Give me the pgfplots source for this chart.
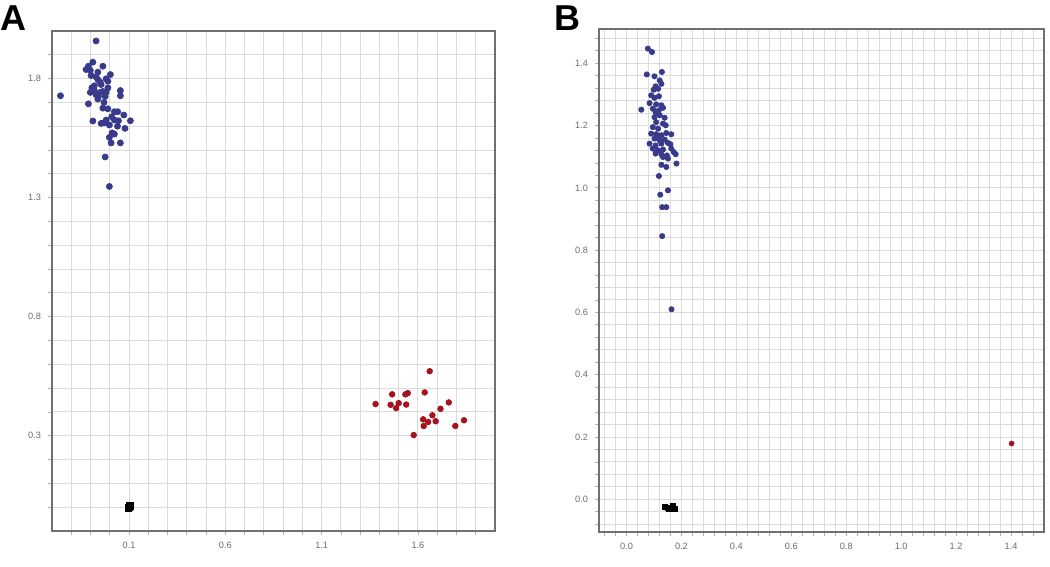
\documentclass[border=0pt]{standalone}
\usepackage{fontspec}
\setmainfont{Liberation Sans}
\usepackage{pgfplots}
\pgfplotsset{compat=1.18}

\definecolor{ptblue}{HTML}{3A3A8C}
\definecolor{ptred}{HTML}{A5141E}
\definecolor{gridc}{HTML}{DCDCDC}
\definecolor{framec}{HTML}{707070}

\pgfplotsset{
  panel/.style={
    scale only axis, anchor=south west,
    axis line style={draw=framec, line width=1pt},
    grid=both,
    major grid style={draw=gridc, line width=0.5pt},
    minor grid style={draw=gridc, line width=0.5pt},
    tick align=outside, tick pos=left,
    major tick length=2pt, minor tick length=2pt,
    every tick/.style={draw=gray!60, line width=0.4pt},
    tick label style={font=\fontsize{4.6}{5}\selectfont, text=gray!85!black},
    /pgf/number format/assume math mode=true,
    /pgf/number format/.cd, fixed, fixed zerofill, precision=1, /pgfplots/.cd,
    clip=false,
  },
  blue pts/.style={only marks, mark=*, mark size=1.5pt, color=ptblue},
  red pts/.style={only marks, mark=*, mark size=1.4pt, color=ptred},
  black pts/.style={only marks, mark=square*, mark size=1.6pt, color=black},
}

\begin{document}
\begin{tikzpicture}
\useasboundingbox (0pt,0pt) rectangle (525pt,283.5pt);

\node[anchor=north west, inner sep=0pt, font=\fontsize{18}{18}\selectfont\bfseries] at (0pt,281pt) {A};
\node[anchor=north west, inner sep=0pt, font=\fontsize{18}{18}\selectfont\bfseries] at (277pt,281pt) {B};

% panel A
\begin{axis}[panel,
    at={(26pt,18pt)}, width=221.5pt, height=250pt,
    xmin=-0.3, xmax=2.0, ymin=-0.1, ymax=2.0,
    xtick={0.1,0.6,1.1,1.6},
    ytick={0.3,0.8,1.3,1.8},
    minor xtick={-0.2,-0.1,0,0.2,0.3,0.4,0.5,0.7,0.8,0.9,1.0,1.2,1.3,1.4,1.5,1.7,1.8,1.9},
    minor ytick={0,0.1,0.2,0.4,0.5,0.6,0.7,0.9,1.0,1.1,1.2,1.4,1.5,1.6,1.7,1.9},
  ]
  \addplot[blue pts] coordinates {
    (-0.071,1.958) (-0.088,1.869) (-0.036,1.852) (-0.111,1.852) (-0.123,1.838)
    (-0.101,1.835) (-0.062,1.827) (-0.097,1.813) (-0.071,1.807) (-0.062,1.796)
    (0.003,1.817) (-0.019,1.799) (-0.010,1.789) (-0.045,1.775) (-0.256,1.728)
    (-0.093,1.761) (-0.101,1.742) (-0.080,1.750) (-0.071,1.732) (-0.059,1.725)
    (-0.049,1.742) (-0.062,1.714) (-0.036,1.746) (-0.019,1.742) (-0.024,1.725)
    (-0.010,1.761) (0.055,1.750) (0.055,1.728) (-0.111,1.694) (-0.036,1.676)
    (-0.010,1.673) (0.024,1.661) (0.041,1.661) (0.073,1.647) (-0.088,1.622)
    (-0.045,1.612) (-0.028,1.615) (-0.002,1.605) (-0.019,1.626) (0.024,1.626)
    (0.045,1.623) (0.107,1.623) (0.079,1.591) (0.012,1.572) (0.024,1.567)
    (-0.002,1.553) (0.007,1.530) (0.055,1.530) (-0.024,1.471) (-0.002,1.347)
    (-0.080,1.770) (-0.050,1.785) (-0.030,1.700) (0.010,1.640) (0.040,1.600)
  };
  \addplot[red pts] coordinates {
    (1.661,0.571) (1.466,0.474) (1.535,0.474) (1.547,0.479) (1.635,0.482)
    (1.380,0.433) (1.458,0.430) (1.500,0.437) (1.487,0.416) (1.539,0.431)
    (1.760,0.440) (1.717,0.413) (1.675,0.386) (1.627,0.369) (1.653,0.358)
    (1.692,0.361) (1.630,0.341) (1.794,0.341) (1.839,0.365) (1.578,0.303)
  };
  \addplot[black pts] coordinates {
    (0.100,0.000) (0.104,0.006) (0.097,-0.004) (0.102,0.001)
  };
\end{axis}

% panel B
\begin{axis}[panel,
    at={(299.5pt,17.5pt)}, width=222.5pt, height=251.5pt,
    xmin=-0.1, xmax=1.52, ymin=-0.105, ymax=1.51,
    xtick={0,0.2,0.4,0.6,0.8,1.0,1.2,1.4},
    ytick={0,0.2,0.4,0.6,0.8,1.0,1.2,1.4},
    minor xtick={-0.08,-0.04,0.04,0.08,0.12,0.16,0.24,0.28,0.32,0.36,0.44,0.48,0.52,0.56,
      0.64,0.68,0.72,0.76,0.84,0.88,0.92,0.96,1.04,1.08,1.12,1.16,1.24,1.28,1.32,1.36,1.44,1.48},
    minor ytick={-0.08,-0.04,0.04,0.08,0.12,0.16,0.24,0.28,0.32,0.36,0.44,0.48,0.52,0.56,
      0.64,0.68,0.72,0.76,0.84,0.88,0.92,0.96,1.04,1.08,1.12,1.16,1.24,1.28,1.32,1.36,1.44,1.48},
    blue pts/.append style={mark size=1.3pt},
  ]
  \addplot[blue pts] coordinates {
    (0.078,1.447) (0.093,1.436) (0.074,1.364) (0.102,1.358) (0.129,1.372)
    (0.121,1.345) (0.127,1.334) (0.106,1.326) (0.099,1.315) (0.115,1.318)
    (0.090,1.297) (0.102,1.289) (0.118,1.294) (0.084,1.272) (0.108,1.268)
    (0.127,1.265) (0.054,1.251) (0.096,1.254) (0.106,1.243) (0.118,1.249)
    (0.133,1.257) (0.102,1.227) (0.121,1.233) (0.139,1.225) (0.108,1.211)
    (0.133,1.206) (0.096,1.195) (0.115,1.190) (0.143,1.201) (0.090,1.174)
    (0.108,1.172) (0.127,1.169) (0.145,1.176) (0.163,1.172) (0.102,1.158)
    (0.121,1.152) (0.139,1.155) (0.111,1.163) (0.084,1.142) (0.106,1.136)
    (0.127,1.142) (0.151,1.144) (0.160,1.140) (0.096,1.126) (0.115,1.120)
    (0.133,1.123) (0.163,1.126) (0.106,1.110) (0.127,1.108) (0.147,1.104)
    (0.172,1.115) (0.133,1.099) (0.151,1.094) (0.179,1.108) (0.127,1.074)
    (0.145,1.067) (0.182,1.078) (0.118,1.038) (0.151,0.992) (0.123,0.978)
    (0.130,0.938) (0.145,0.938) (0.130,0.845) (0.164,0.610)
  };
  \addplot[red pts, mark size=1.2pt] coordinates {(1.402,0.179)};
  \addplot[black pts, mark size=1.3pt] coordinates {
    (0.140,-0.025) (0.150,-0.028) (0.160,-0.027) (0.170,-0.022) (0.175,-0.030) (0.155,-0.030)
  };
\end{axis}
\end{tikzpicture}
\end{document}
